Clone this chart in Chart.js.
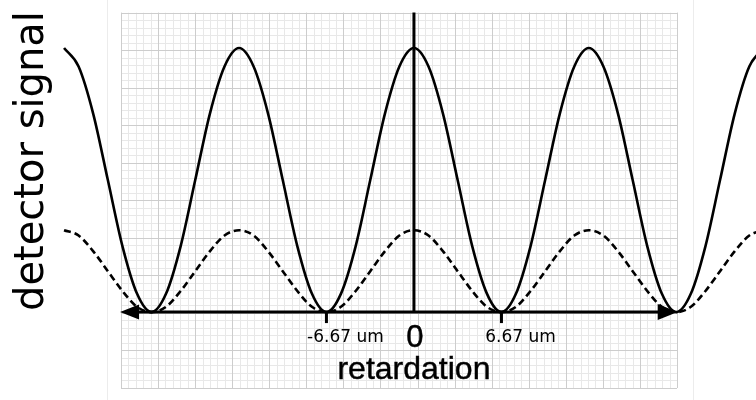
<!DOCTYPE html>
<html>
<head>
<meta charset="utf-8">
<script src="https://cdn.jsdelivr.net/npm/chart.js@4/dist/chart.umd.min.js"></script>
<style>
    html, body { margin: 0; padding: 0; background: #fff; }
    canvas { display: block; }
</style>
</head>
<body>
<canvas id="signalChart" width="756" height="400"></canvas>
<script>
// retardation in um (x) and detector signal (relative units)
var retardation = [-26.67, -25.56, -24.44, -23.33, -22.22, -21.11, -20.00, -18.89, -17.78, -16.67, -15.56, -14.44,
                   -13.33, -12.22, -11.11, -10.00, -8.89, -7.78, -6.67, -5.56, -4.44, -3.33, -2.22, -1.11,
                   0, 1.11, 2.22, 3.33, 4.44, 5.56, 6.67, 7.78, 8.89, 10.00, 11.11, 12.22,
                   13.33, 14.44, 15.56, 16.67, 17.78, 18.89, 20.00, 21.11, 22.22, 23.33, 24.44, 25.56, 26.67];
var fullSignal = [1.00, 0.93, 0.75, 0.50, 0.25, 0.07, 0.00, 0.07, 0.25, 0.50, 0.75, 0.93,
                  1.00, 0.93, 0.75, 0.50, 0.25, 0.07, 0.00, 0.07, 0.25, 0.50, 0.75, 0.93,
                  1.00, 0.93, 0.75, 0.50, 0.25, 0.07, 0.00, 0.07, 0.25, 0.50, 0.75, 0.93,
                  1.00, 0.93, 0.75, 0.50, 0.25, 0.07, 0.00, 0.07, 0.25, 0.50, 0.75, 0.93, 1.00];
var weakSignal = [0.31, 0.29, 0.23, 0.155, 0.08, 0.02, 0.00, 0.02, 0.08, 0.155, 0.23, 0.29,
                  0.31, 0.29, 0.23, 0.155, 0.08, 0.02, 0.00, 0.02, 0.08, 0.155, 0.23, 0.29,
                  0.31, 0.29, 0.23, 0.155, 0.08, 0.02, 0.00, 0.02, 0.08, 0.155, 0.23, 0.29,
                  0.31, 0.29, 0.23, 0.155, 0.08, 0.02, 0.00, 0.02, 0.08, 0.155, 0.23, 0.29, 0.31];
var tickValues = [-6.67, 6.67];
var tickLabels = ['-6.67 um', '6.67 um'];
var zeroLabel = '0';
var xTitle = 'retardation';
var yTitle = 'detector signal';
var arrowEnds = [-22.4, 20.1];

function toPoints(ys) {
    return retardation.map(function(x, i) { return { x: x, y: ys[i] }; });
}

// graph paper behind everything
var graphPaper = {
    id: 'graphPaper',
    beforeDraw: function(chart) {
        var ctx = chart.ctx;
        var left = 121, right = 677, top = 12.7, bottom = 388;
        var cols = 15, rows = 10;
        var cw = (right - left) / cols, ch = (bottom - top) / rows;
        ctx.save();
        ctx.fillStyle = '#fff';
        ctx.fillRect(0, 0, chart.width, chart.height);
        // faint panel edges
        ctx.strokeStyle = '#ececec';
        ctx.lineWidth = 1;
        ctx.beginPath();
        ctx.moveTo(107.5, 0); ctx.lineTo(107.5, 400);
        ctx.moveTo(693.5, 0); ctx.lineTo(693.5, 400);
        ctx.stroke();
        // minor lines
        ctx.strokeStyle = '#e8e8e8';
        ctx.beginPath();
        var i;
        for (i = 0; i <= cols * 5; i++) {
            var x = Math.round(left + i * cw / 5) + 0.5;
            ctx.moveTo(x, top); ctx.lineTo(x, bottom);
        }
        for (i = 0; i <= rows * 5; i++) {
            var y = Math.round(top + i * ch / 5) + 0.5;
            ctx.moveTo(left, y); ctx.lineTo(right, y);
        }
        ctx.stroke();
        // major lines
        ctx.strokeStyle = '#cdcdcd';
        ctx.beginPath();
        for (i = 0; i <= cols; i++) {
            var xm = Math.round(left + i * cw) + 0.5;
            ctx.moveTo(xm, top); ctx.lineTo(xm, bottom);
        }
        for (i = 0; i <= rows; i++) {
            var ym = Math.round(top + i * ch) + 0.5;
            ctx.moveTo(left, ym); ctx.lineTo(right, ym);
        }
        ctx.stroke();
        ctx.restore();
    }
};

// axis with arrows, center line and ticks
var axisArrows = {
    id: 'axisArrows',
    afterDatasetsDraw: function(chart) {
        var ctx = chart.ctx;
        var xs = chart.scales.x, ys = chart.scales.y;
        var y0 = ys.getPixelForValue(0);
        var x0 = xs.getPixelForValue(0);
        var xl = xs.getPixelForValue(arrowEnds[0]);
        var xr = xs.getPixelForValue(arrowEnds[1]);
        ctx.save();
        ctx.strokeStyle = '#000';
        ctx.fillStyle = '#000';
        ctx.lineWidth = 3;
        ctx.beginPath();
        ctx.moveTo(xl + 10, y0); ctx.lineTo(xr - 10, y0);
        ctx.stroke();
        // arrow heads
        ctx.beginPath();
        ctx.moveTo(xl, y0); ctx.lineTo(xl + 19, y0 - 7.5); ctx.lineTo(xl + 19, y0 + 7.5); ctx.closePath();
        ctx.fill();
        ctx.beginPath();
        ctx.moveTo(xr, y0); ctx.lineTo(xr - 20, y0 - 8); ctx.lineTo(xr - 20, y0 + 8); ctx.closePath();
        ctx.fill();
        // vertical line at zero
        ctx.beginPath();
        ctx.moveTo(x0, 12.5); ctx.lineTo(x0, y0);
        ctx.stroke();
        // small ticks
        tickValues.forEach(function(v) {
            var xt = xs.getPixelForValue(v);
            ctx.beginPath();
            ctx.moveTo(xt, y0); ctx.lineTo(xt, y0 + 11);
            ctx.stroke();
        });
        ctx.restore();
    },
    afterDraw: function(chart) {
        var ctx = chart.ctx;
        var xs = chart.scales.x;
        var x0 = xs.getPixelForValue(0);
        ctx.save();
        ctx.fillStyle = '#000';
        ctx.strokeStyle = '#000';
        ctx.textAlign = 'center';
        ctx.textBaseline = 'alphabetic';
        ctx.font = '17px "DejaVu Sans"';
        tickValues.forEach(function(v, i) {
            ctx.fillText(tickLabels[i], xs.getPixelForValue(v) + 19, 342);
        });
        // slightly heavier strokes for the large labels
        ctx.lineWidth = 0.45;
        ctx.font = '31px "Liberation Sans"';
        ctx.fillText(zeroLabel, x0 + 1, 347);
        ctx.strokeText(zeroLabel, x0 + 1, 347);
        ctx.font = '32px "Liberation Sans"';
        ctx.fillText(xTitle, x0, 379);
        ctx.strokeText(xTitle, x0, 379);
        ctx.translate(43, 161);
        ctx.rotate(-Math.PI / 2);
        ctx.font = '40px "DejaVu Sans"';
        ctx.fillText(yTitle, 0, 0);
        ctx.restore();
    }
};

document.addEventListener('DOMContentLoaded', function() {
    var ctx = document.getElementById('signalChart').getContext('2d');
    new Chart(ctx, {
        type: 'line',
        data: {
            datasets: [{
                label: 'full',
                data: toPoints(fullSignal),
                borderColor: '#000',
                borderWidth: 2.6,
                cubicInterpolationMode: 'monotone',
                pointRadius: 0,
                fill: false
            }, {
                label: 'weak',
                data: toPoints(weakSignal),
                borderColor: '#000',
                borderWidth: 2.6,
                borderDash: [7, 4],
                cubicInterpolationMode: 'monotone',
                pointRadius: 0,
                fill: false
            }]
        },
        options: {
            responsive: false,
            animation: false,
            devicePixelRatio: 1,
            layout: { padding: 0 },
            plugins: {
                legend: { display: false },
                tooltip: { enabled: false }
            },
            scales: {
                x: { type: 'linear', min: -31.55, max: 26.07, display: false },
                y: { type: 'linear', min: -0.333, max: 1.182, display: false }
            }
        },
        plugins: [graphPaper, axisArrows]
    });
});
</script>
</body>
</html>
